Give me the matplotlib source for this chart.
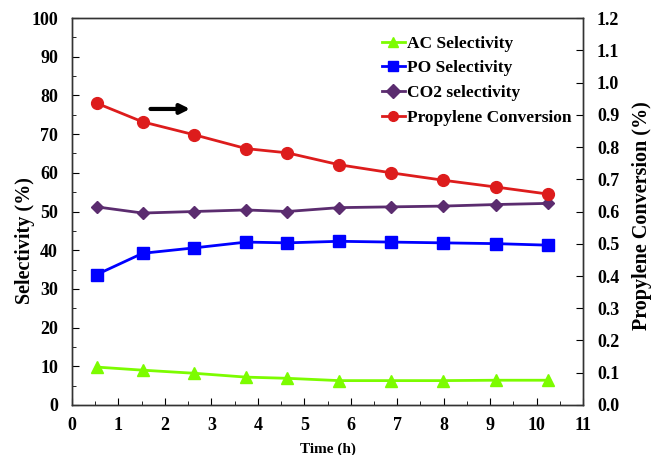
import matplotlib
matplotlib.use("Agg")
import matplotlib.pyplot as plt
from matplotlib.ticker import MultipleLocator, FormatStrFormatter

plt.rcParams['font.family'] = ['Liberation Serif', 'DejaVu Serif']
plt.rcParams['font.weight'] = 'bold'

# data
time_h = [0.53, 1.52, 2.63, 3.75, 4.63, 5.75, 6.87, 7.99, 9.12, 10.25]
ac_sel = [9.8, 9.0, 8.2, 7.2, 6.9, 6.3, 6.3, 6.3, 6.4, 6.4]
po_sel = [33.7, 39.2, 40.6, 42.1, 41.9, 42.3, 42.1, 41.9, 41.7, 41.3]
co2_sel = [51.2, 49.6, 50.0, 50.4, 50.0, 51.0, 51.2, 51.4, 51.8, 52.1]
conversion = [0.936, 0.878, 0.838, 0.795, 0.782, 0.745, 0.72, 0.697, 0.676, 0.654]

fig = plt.figure(figsize=(6.51, 4.55), dpi=100)
ax = fig.add_axes([0.1106, 0.1099, 0.785, 0.8505])
ax2 = ax.twinx()

l1, = ax.plot(time_h, ac_sel, color='#7cfc00', marker='^', ms=8.5, lw=2, label='AC Selectivity')
l2, = ax.plot(time_h, po_sel, color='#0000ff', marker='s', ms=8.5, lw=2, label='PO Selectivity')
l3, = ax.plot(time_h, co2_sel, color='#5b2c6f', marker='D', ms=6.5, lw=2, label='CO2 selectivity')
l4, = ax2.plot(time_h, conversion, color='#dd1c1c', marker='o', ms=8.5, lw=2, label='Propylene Conversion')

ax.set_xlim(0, 11)
ax.set_ylim(0, 100)
ax2.set_ylim(0, 1.2)
ax.xaxis.set_major_locator(MultipleLocator(1))
ax.xaxis.set_minor_locator(MultipleLocator(0.5))
ax.yaxis.set_major_locator(MultipleLocator(10))
ax.yaxis.set_minor_locator(MultipleLocator(5))
ax2.yaxis.set_major_locator(MultipleLocator(0.1))
ax2.yaxis.set_major_formatter(FormatStrFormatter('%.1f'))

ax.tick_params(axis='both', which='both', direction='in', labelsize=13)
ax.tick_params(axis='y', pad=10)
ax.tick_params(axis='x', pad=9)
ax.tick_params(which='major', length=5)
ax.tick_params(which='minor', length=3)
ax.tick_params(axis='y', which='both', right=False)
ax2.tick_params(axis='y', direction='in', labelsize=13, length=5, pad=10)
ax.xaxis.set_tick_params(top=False, which='both')

for a in (ax, ax2):
    for s in a.spines.values():
        s.set_linewidth(1.0)
        s.set_color('#333333')

ax.set_xlabel('Time (h)', fontsize=11, fontweight='bold', labelpad=6)
ax.set_ylabel('Selectivity (%)', fontsize=14.5, fontweight='bold')
ax.yaxis.set_label_coords(-0.073, 0.426)
ax2.set_ylabel('Propylene Conversion (%)', fontsize=14.5, fontweight='bold')
ax2.yaxis.set_label_coords(1.096, 0.49)

ax.annotate('', xy=(2.6, 76.5), xytext=(1.63, 76.5),
            arrowprops=dict(arrowstyle='-|>', color='black', lw=3, mutation_scale=14))

leg = ax.legend(handles=[l1, l2, l3, l4], loc='upper left', frameon=False,
                fontsize=12.5, handlelength=1.3, handletextpad=0.1,
                borderaxespad=0.0, borderpad=0.0, labelspacing=0.5,
                bbox_to_anchor=(0.607, 0.955))
for h in leg.legend_handles:
    h.set_markersize(7)

fig.savefig('out.png', dpi=100)
